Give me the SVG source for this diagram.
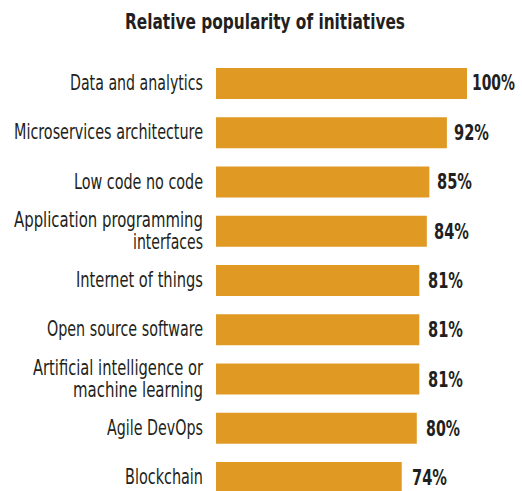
<svg xmlns="http://www.w3.org/2000/svg" width="522" height="491" viewBox="0 0 522 491">
<style>
.t{font-family:"Liberation Sans Narrow","DejaVu Sans Condensed","Liberation Sans",sans-serif;fill:#231f20}
.lab{font-size:21.5px;text-anchor:end}
.val{font-size:20.5px;font-weight:bold}
.ttl{font-size:21.5px;font-weight:bold}
.bar{fill:#e09a24}
</style>
<rect width="522" height="491" fill="#ffffff"/>
<text class="t ttl" x="125" y="29" textLength="280" lengthAdjust="spacingAndGlyphs">Relative popularity of initiatives</text>
<g id="row-data">
<rect class="bar" x="216" y="68" width="251" height="31"/>
<text class="t lab" x="203" y="90" textLength="133" lengthAdjust="spacingAndGlyphs">Data and analytics</text>
<text class="t val" x="472" y="90" textLength="43" lengthAdjust="spacingAndGlyphs">100%</text>
</g>
<g id="row-micro">
<rect class="bar" x="216" y="117.25" width="230.9" height="31"/>
<text class="t lab" x="203" y="139.25" textLength="189" lengthAdjust="spacingAndGlyphs">Microservices architecture</text>
<text class="t val" x="454" y="139.5" textLength="35" lengthAdjust="spacingAndGlyphs">92%</text>
</g>
<g id="row-lowcode">
<rect class="bar" x="216" y="166.5" width="213.35" height="31"/>
<text class="t lab" x="203" y="188.5" textLength="129" lengthAdjust="spacingAndGlyphs">Low code no code</text>
<text class="t val" x="437" y="189" textLength="35" lengthAdjust="spacingAndGlyphs">85%</text>
</g>
<g id="row-api">
<rect class="bar" x="216" y="215.75" width="210.84" height="31"/>
<text class="t lab" x="203" y="227" textLength="189" lengthAdjust="spacingAndGlyphs">Application programming</text>
<text class="t lab" x="203" y="249" textLength="70" lengthAdjust="spacingAndGlyphs">interfaces</text>
<text class="t val" x="434" y="239" textLength="35" lengthAdjust="spacingAndGlyphs">84%</text>
</g>
<g id="row-iot">
<rect class="bar" x="216" y="265" width="203.31" height="31"/>
<text class="t lab" x="203" y="287" textLength="127" lengthAdjust="spacingAndGlyphs">Internet of things</text>
<text class="t val" x="428" y="288" textLength="35" lengthAdjust="spacingAndGlyphs">81%</text>
</g>
<g id="row-oss">
<rect class="bar" x="216" y="314.25" width="203.31" height="31"/>
<text class="t lab" x="203" y="336.25" textLength="156" lengthAdjust="spacingAndGlyphs">Open source software</text>
<text class="t val" x="428" y="337" textLength="35" lengthAdjust="spacingAndGlyphs">81%</text>
</g>
<g id="row-ai">
<rect class="bar" x="216" y="363.5" width="203.31" height="31"/>
<text class="t lab" x="203" y="375" textLength="170" lengthAdjust="spacingAndGlyphs">Artificial intelligence or</text>
<text class="t lab" x="203" y="397" textLength="130" lengthAdjust="spacingAndGlyphs">machine learning</text>
<text class="t val" x="428" y="386.5" textLength="35" lengthAdjust="spacingAndGlyphs">81%</text>
</g>
<g id="row-agile">
<rect class="bar" x="216" y="412.75" width="200.8" height="31"/>
<text class="t lab" x="203" y="434.75" textLength="96" lengthAdjust="spacingAndGlyphs">Agile DevOps</text>
<text class="t val" x="426" y="435.5" textLength="34" lengthAdjust="spacingAndGlyphs">80%</text>
</g>
<g id="row-blockchain">
<rect class="bar" x="216" y="462" width="185.74" height="31"/>
<text class="t lab" x="203" y="484" textLength="78" lengthAdjust="spacingAndGlyphs">Blockchain</text>
<text class="t val" x="412" y="485" textLength="35" lengthAdjust="spacingAndGlyphs">74%</text>
</g>
</svg>
